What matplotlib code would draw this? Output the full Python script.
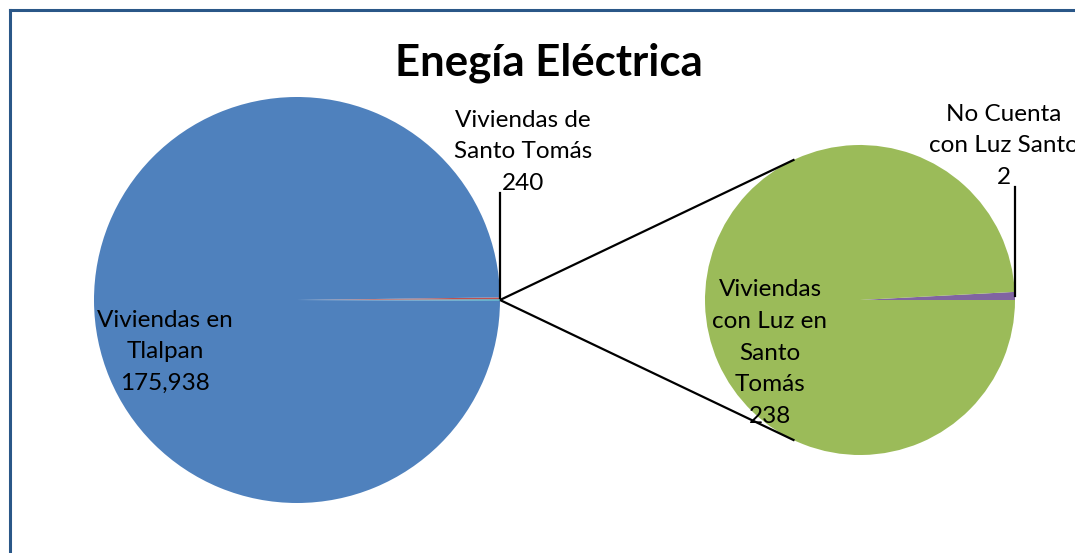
import numpy as np
import matplotlib.pyplot as plt
from matplotlib.lines import Line2D

plt.rcParams['font.family'] = ['Lato', 'DejaVu Sans']

# datos
titulo = 'Enegía Eléctrica'
etiquetas_main = ['Viviendas en\nTlalpan', 'Viviendas de\nSanto Tomás']
valores_main = [175938, 240]
etiquetas_sub = ['Viviendas\ncon Luz en\nSanto\nTomás', 'No Cuenta\ncon Luz Santo']
valores_sub = [238, 2]

azul, rojo, verde, morado, aqua = '#4F81BD', '#C0504D', '#9BBB59', '#8064A2', '#4BACC6'

W, H = 1075, 553
fig = plt.figure(figsize=(W / 100, H / 100), dpi=100)
ax = fig.add_axes([0, 0, 1, 1])

# pie principal: [otros, santo tomas, tlalpan], "otros" centrado a la derecha
otros = sum(valores_sub)
vals1 = [otros, valores_main[1], valores_main[0]]
tot1 = sum(vals1)
ang_otros = 360 * otros / tot1
c1, r1 = (297, H - 300), 203
ax.pie(vals1, colors=[aqua, rojo, azul], startangle=-ang_otros / 2,
       center=c1, radius=r1, wedgeprops=dict(linewidth=0))

# pie secundario: [no cuenta, con luz]
c2, r2 = (860, H - 300), 155
ax.pie([valores_sub[1], valores_sub[0]], colors=[morado, verde], startangle=0,
       center=c2, radius=r2, wedgeprops=dict(linewidth=0))

# lineas de conexion
p0 = (c1[0] + r1, c1[1])
for a in (115, -115):
    t = np.radians(a)
    ax.plot([p0[0], c2[0] + r2 * np.cos(t)], [p0[1], c2[1] + r2 * np.sin(t)],
            color='black', lw=1.6, solid_capstyle='butt')

# lineas guia
a_st = np.radians(ang_otros / 2 + 180 * valores_main[1] / tot1)
x_st = c1[0] + r1 * np.cos(a_st)
ax.plot([x_st, x_st], [c1[1] + r1 * np.sin(a_st), H - 193], color='black', lw=1.6)
a_nc = np.radians(180 * valores_sub[1] / otros)
x_nc = c2[0] + r2 * np.cos(a_nc)
ax.plot([x_nc, x_nc], [c2[1] + r2 * np.sin(a_nc), H - 187], color='black', lw=1.6)

fs = 17.5
kw = dict(ha='center', va='center', fontsize=fs, linespacing=1.62, color='black')
ax.text(165, H - 352, f'{etiquetas_main[0]}\n{valores_main[0]:,}', **kw)
ax.text(523, H - 152, f'{etiquetas_main[1]}\n{valores_main[1]:,}', **kw)
ax.text(770, H - 353, f'{etiquetas_sub[0]}\n{valores_sub[0]:,}', **kw)
ax.text(1004, H - 146, f'{etiquetas_sub[1]}\n{valores_sub[1]:,}', **kw)

ax.text(549, H - 63, titulo, ha='center', va='center', fontsize=31.5, fontweight='bold')

ax.set_xlim(0, W)
ax.set_ylim(0, H)
ax.set_aspect('auto')
ax.axis('off')

# marco
borde = '#2A5788'
fig.add_artist(Line2D([10 / W, 10 / W], [0, 1 - 10 / H], color=borde, lw=2.2))
fig.add_artist(Line2D([10 / W, 1], [1 - 10 / H, 1 - 10 / H], color=borde, lw=2.2))

fig.savefig('out.png', dpi=100)
